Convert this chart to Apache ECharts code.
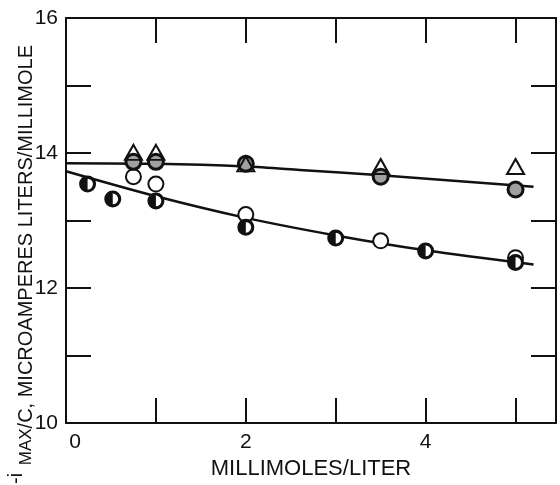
<!DOCTYPE html>
<html>
<head>
<meta charset="utf-8">
<script src="https://cdn.jsdelivr.net/npm/echarts@6/dist/echarts.min.js"></script>
<style>
html,body{margin:0;padding:0;background:#fff;}
#chart{width:560px;height:485px;}
</style>
</head>
<body>
<div id="chart"></div>
<script>
// ---- data ----
const triangleX = [0.75, 1.0, 2.0, 3.5, 5.0];
const triangleY = [14.01, 14.01, 13.84, 13.80, 13.80];
const grayX = [0.75, 1.0, 2.0, 3.5, 5.0];
const grayY = [13.87, 13.87, 13.84, 13.65, 13.46];
const openX = [0.75, 1.0, 2.0, 3.5, 5.0];
const openY = [13.65, 13.54, 13.09, 12.70, 12.45];
const halfX = [0.24, 0.52, 1.0, 2.0, 3.0, 4.0, 5.0];
const halfY = [13.54, 13.32, 13.29, 12.90, 12.74, 12.55, 12.38];
const upperLineX = [0, 1, 2, 2.6, 3.5, 5.2];
const upperLineY = [13.85, 13.84, 13.80, 13.75, 13.67, 13.50];
const lowerLineX = [0, 1, 2, 3, 4, 5.2];
const lowerLineY = [13.73, 13.36, 13.04, 12.78, 12.56, 12.35];
const xLabels = [0, 2, 4];
const yLabels = [10, 12, 14, 16];
const xTitle = 'MILLIMOLES/LITER';
const yTitleLead = '-i';
const yTitleSub = 'MAX';
const yTitleRest = '/C, MICROAMPERES LITERS/MILLIMOLE';

const pairs = (xs, ys) => xs.map((x, i) => [x, ys[i]]);
const FONT = '"Liberation Sans", Arial, Helvetica, sans-serif';
const INK = '#111';

const halfPath = 'path://M0,10A10,10,0,1,1,20,10A10,10,0,1,1,0,10Z' +
  'M2.8,10A7.2,7.2,0,1,0,17.2,10A7.2,7.2,0,1,0,2.8,10Z' +
  'M10,20A10,10,0,0,1,10,0Z';

const chart = echarts.init(document.getElementById('chart'), null, {renderer: 'canvas'});

const tickStyle = {show: true, inside: true, length: 25, lineStyle: {color: INK, width: 2}};
const lineStyleAxis = {show: true, onZero: false, lineStyle: {color: INK, width: 2}};

chart.setOption({
  animation: false,
  backgroundColor: '#fff',
  grid: {left: 66, right: 4, top: 18, bottom: 53, containLabel: false},
  xAxis: [{
    type: 'value', min: 0, max: 5.45, interval: 1, position: 'bottom',
    axisLine: lineStyleAxis, axisTick: tickStyle, splitLine: {show: false},
    axisLabel: {
      color: INK, fontFamily: FONT, fontSize: 21, margin: 9,
      showMaxLabel: false,
      formatter: v => (v === 0 ? '{z|0}' : (xLabels.indexOf(v) >= 0 ? String(v) : '')),
      rich: {z: {fontFamily: FONT, fontSize: 21, color: INK, padding: [0, 0, 0, 18]}}
    },
    name: xTitle, nameLocation: 'middle', nameGap: 32,
    nameTextStyle: {color: INK, fontFamily: FONT, fontSize: 22}
  }, {
    type: 'value', min: 0, max: 5.45, interval: 1, position: 'top',
    axisLine: lineStyleAxis, axisTick: tickStyle, splitLine: {show: false},
    axisLabel: {show: false}
  }],
  yAxis: [{
    type: 'value', min: 10, max: 16, interval: 1, position: 'left',
    axisLine: lineStyleAxis, axisTick: tickStyle, splitLine: {show: false},
    axisLabel: {
      color: INK, fontFamily: FONT, fontSize: 21, margin: 8,
      formatter: v => (yLabels.indexOf(v) >= 0 ? String(v) : '')
    }
  }, {
    type: 'value', min: 10, max: 16, interval: 1, position: 'right',
    axisLine: lineStyleAxis, axisTick: tickStyle, splitLine: {show: false},
    axisLabel: {show: false}
  }],
  graphic: [{
    type: 'text', x: 26, y: 45, rotation: Math.PI / 2,
    style: {
      text: '{s|' + yTitleSub + '}{m|' + yTitleRest + '}',
      align: 'right', verticalAlign: 'middle', fill: INK,
      rich: {
        s: {fontFamily: FONT, fontSize: 17, fill: INK, verticalAlign: 'middle'},
        m: {fontFamily: FONT, fontSize: 20, fill: INK, verticalAlign: 'middle'}
      }
    }
  }, {
    type: 'text', x: 16, y: 484, rotation: Math.PI / 2,
    style: {text: yTitleLead, align: 'left', verticalAlign: 'middle', fill: INK,
            font: '20px ' + FONT}
  }],
  series: [{
    type: 'line', data: pairs(upperLineX, upperLineY), smooth: 0.3,
    showSymbol: false, symbol: 'none', lineStyle: {color: INK, width: 2.5}, z: 1
  }, {
    type: 'line', data: pairs(lowerLineX, lowerLineY), smooth: 0.3,
    showSymbol: false, symbol: 'none', lineStyle: {color: INK, width: 2.5}, z: 1
  }, {
    type: 'scatter', data: pairs(openX, openY), symbol: 'circle', symbolSize: 15,
    itemStyle: {color: '#fff', borderColor: INK, borderWidth: 2, opacity: 1}, z: 3
  }, {
    type: 'scatter', data: pairs(halfX, halfY), symbol: 'circle', symbolSize: 15,
    itemStyle: {color: '#fff', borderColor: INK, borderWidth: 2, opacity: 1}, z: 3
  }, {
    type: 'scatter', data: pairs(halfX, halfY), symbol: halfPath, symbolSize: 15,
    itemStyle: {color: INK, borderWidth: 0, opacity: 1}, z: 4
  }, {
    type: 'scatter', data: pairs(grayX, grayY), symbol: 'circle', symbolSize: 15,
    itemStyle: {color: '#a0a0a0', borderColor: INK, borderWidth: 3, opacity: 1}, z: 5
  }, {
    type: 'scatter', data: pairs(triangleX, triangleY), symbol: 'triangle', symbolSize: [17, 15],
    itemStyle: {color: 'rgba(255,255,255,0)', borderColor: INK, borderWidth: 2, opacity: 1}, z: 6
  }]
});
</script>
</body>
</html>
